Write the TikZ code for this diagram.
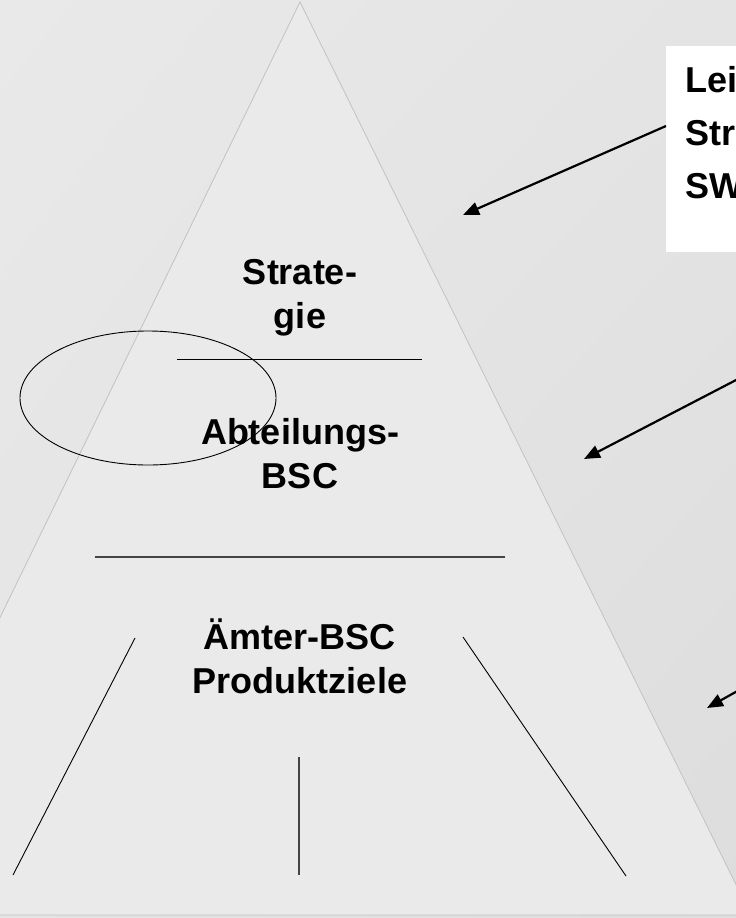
\documentclass[tikz,border=0pt]{standalone}
\usepackage{fontspec}
\setmainfont{Liberation Sans}
\usetikzlibrary{arrows.meta, shadings}
\definecolor{bgA}{HTML}{E9E9E9}
\definecolor{bgM}{HTML}{E4E4E4}
\definecolor{bgB}{HTML}{DDDDDD}
\definecolor{pyr}{HTML}{EAEAEA}
\definecolor{pyrrand}{HTML}{C2C2C2}
\definecolor{dunkel}{HTML}{444444}
\tikzstyle{stufe}=[font=\bfseries\fontsize{36}{44}\selectfont, align=center, inner sep=0pt]
\tikzstyle{notiz}=[font=\bfseries\fontsize{36}{44}\selectfont, inner sep=0pt]
\tikzstyle{pfeil}=[line width=2.2pt, -{Triangle[length=16pt,width=13pt]}]
\tikzstyle{trenn}=[line width=0.9pt]

\begin{document}
\begin{tikzpicture}[x=1pt,y=-1pt]
%frame
\useasboundingbox (0,0) rectangle (736,918);
\clip (0,0) rectangle (736,918);
\shade[upper left=bgA, upper right=bgM, lower left=bgM, lower right=bgB] (0,0) rectangle (736,918);
%pyramid
\filldraw[fill=pyr, draw=pyrrand, line width=0.8pt] (300,2) -- (-145,915) -- (751,915) -- cycle;
%separators
\draw[trenn] (177,359) -- (422,359);
\draw[trenn, dunkel, line width=1.4pt] (95,557) -- (505,557);
%lower fan
\draw[trenn] (135,638) -- (13,875);
\draw[dunkel, line width=1.4pt] (299,757) -- (299,875);
\draw[trenn] (463,637) -- (626,876);
%levels (base = last line)
\node[stufe, anchor=base] (strat) at (300,328) {Strate-\\gie};
\node[stufe, anchor=base] (abt) at (300,488) {Abteilungs-\\BSC};
\node[stufe, anchor=base] (aemter) at (300,693) {Ämter-BSC\\Produktziele};
%ellipse
\draw[trenn] (148,398) ellipse [x radius=128pt, y radius=67pt];
%note box
\node[fill=white, inner sep=0pt, minimum width=90pt, minimum height=206pt, anchor=north west] (leit) at (666,46) {};
\foreach \t/\y in {Lei/92, Stra/145, SW/198}
	\node[notiz, anchor=base west] (n\t) at (685,\y) {\t};
%arrows
\coordinate (s1) at ([yshift=-80pt]leit.north west);
\coordinate (a1) at (463,215);
\coordinate (s2) at (790,352);
\coordinate (a2) at (584,459);
\coordinate (s3) at (750,684);
\coordinate (a3) at (707,708);
\draw[pfeil] (s1) -- (a1);
\draw[pfeil] (s2) -- (a2);
\draw[pfeil] (s3) -- (a3);
\end{tikzpicture}
\end{document}
